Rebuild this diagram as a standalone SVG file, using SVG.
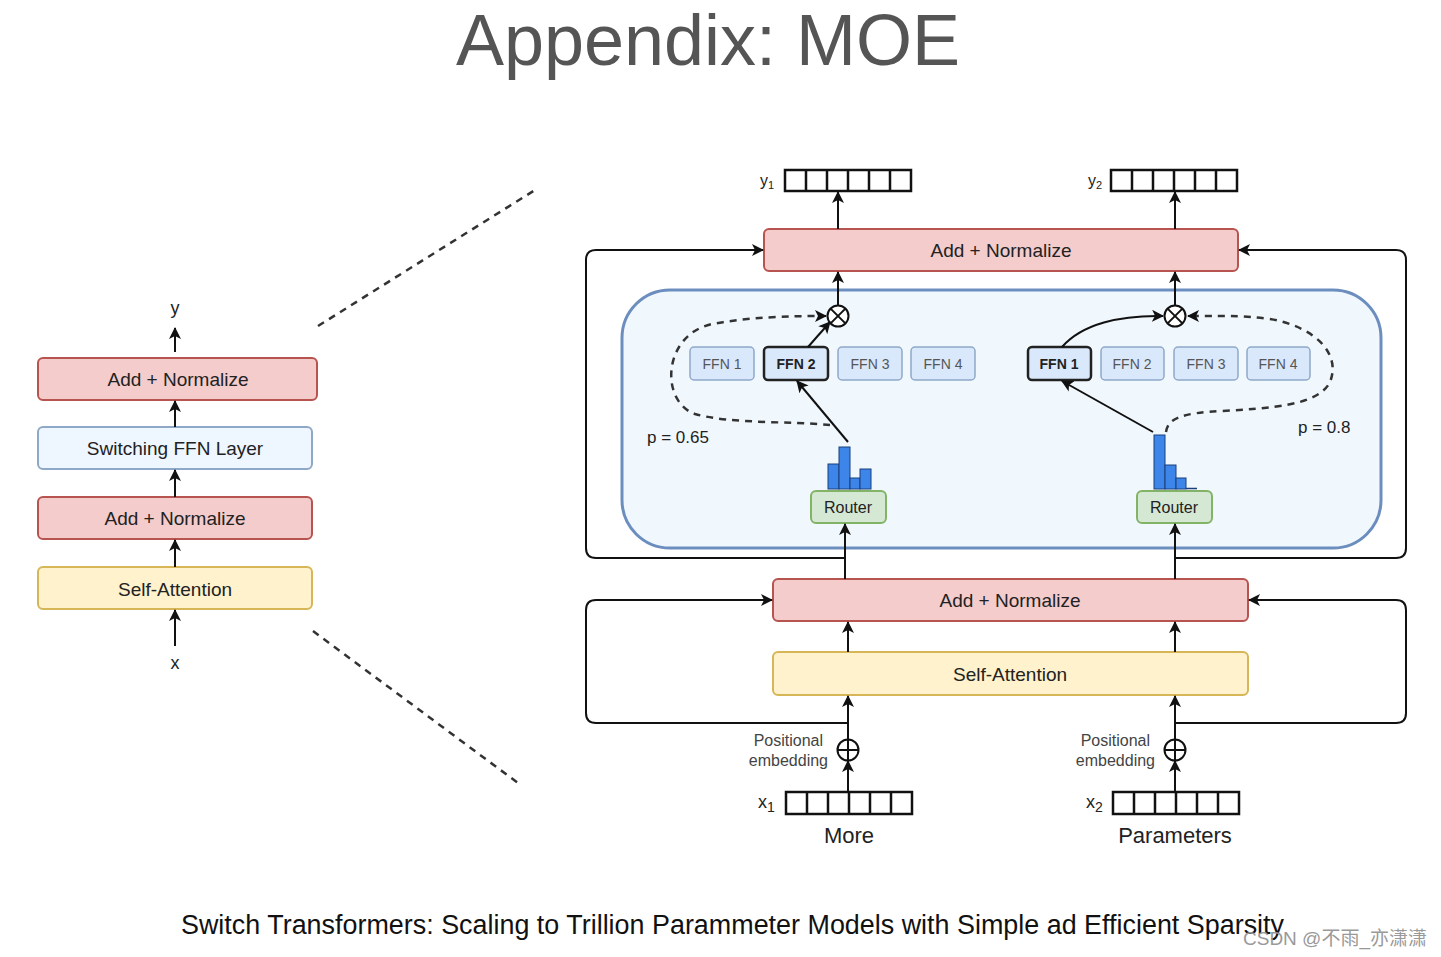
<svg xmlns="http://www.w3.org/2000/svg" width="1441" height="957" viewBox="0 0 1441 957">
<defs>
<marker id="ah" markerUnits="userSpaceOnUse" markerWidth="12" markerHeight="12" viewBox="0 0 12 12" refX="11" refY="6" orient="auto">
<path d="M0,0 L12,6 L0,12 L3,6 Z" fill="#111"/>
</marker>
</defs>
<style>
text{font-family:"Liberation Sans",Arial,sans-serif;fill:#222}
.an{fill:#f4cccc;stroke:#b85450;stroke-width:2}
.sa{fill:#fff2cc;stroke:#d6b656;stroke-width:2}
.sw{fill:#eef6ff;stroke:#8fa8c8;stroke-width:2}
.ffn{fill:#dae8fc;stroke:#8fa8c8;stroke-width:1.5}
.ffnb{fill:#dae8fc;stroke:#222;stroke-width:2.5}
.rt{fill:#d5e8d4;stroke:#82b366;stroke-width:2}
.bar{fill:#3d85e8;stroke:#1a3f7a;stroke-width:1}
.ln{fill:none;stroke:#111;stroke-width:2}
.arr{fill:none;stroke:#111;stroke-width:2;marker-end:url(#ah)}
.dash{fill:none;stroke:#333;stroke-width:2.5;stroke-dasharray:7,6}
.vec{fill:#fff;stroke:#111;stroke-width:2.5}
.lbl{font-size:19px;text-anchor:middle}
.fl{font-size:14px;text-anchor:middle;fill:#555}
.flb{font-size:14px;text-anchor:middle;font-weight:bold;fill:#222}
</style>
<rect width="1441" height="957" fill="#fff"/>
<text x="708" y="65" font-size="72" text-anchor="middle" style="fill:#555">Appendix: MOE</text>

<g id="left-stack">
<g id="l-y"><text x="175" y="314" font-size="18" text-anchor="middle">y</text></g>
<g id="l-an2"><rect class="an" x="38" y="358" width="279" height="42" rx="5"/><text class="lbl" x="178" y="386">Add + Normalize</text></g>
<g id="l-sw"><rect class="sw" x="38" y="427" width="274" height="42" rx="5"/><text class="lbl" x="175" y="455" font-size="18">Switching FFN Layer</text></g>
<g id="l-an1"><rect class="an" x="38" y="497" width="274" height="42" rx="5"/><text class="lbl" x="175" y="525">Add + Normalize</text></g>
<g id="l-sa"><rect class="sa" x="38" y="567" width="274" height="42" rx="5"/><text class="lbl" x="175" y="596">Self-Attention</text></g>
<g id="l-x"><text x="175" y="669" font-size="18" text-anchor="middle">x</text></g>
</g>

<g id="right-nodes">
<g id="y1"><text x="760" y="186" font-size="16">y<tspan font-size="11" dy="3">1</tspan></text>
<rect class="vec" x="785" y="170" width="126" height="21"/></g>
<g id="y2"><text x="1088" y="186" font-size="16">y<tspan font-size="11" dy="3">2</tspan></text>
<rect class="vec" x="1111" y="170" width="126" height="21"/></g>
<g id="an-top"><rect class="an" x="764" y="229" width="474" height="42" rx="5"/><text class="lbl" x="1001" y="257">Add + Normalize</text></g>
<g id="moe"><rect x="622" y="290" width="759" height="258" rx="48" fill="#f0f8fe" stroke="#6c8ebf" stroke-width="3"/></g>
<g id="mul1"><circle cx="838" cy="316" r="10.5" fill="#fff" stroke="#111" stroke-width="2"/><path class="ln" d="M830.6,308.6 L845.4,323.4 M845.4,308.6 L830.6,323.4"/></g>
<g id="mul2"><circle cx="1175" cy="316" r="10.5" fill="#fff" stroke="#111" stroke-width="2"/><path class="ln" d="M1167.6,308.6 L1182.4,323.4 M1182.4,308.6 L1167.6,323.4"/></g>
<g id="ffn-l1"><rect class="ffn" x="690" y="347" width="64" height="33" rx="4"/><text class="fl" x="722" y="369">FFN 1</text></g>
<g id="ffn-l2"><rect class="ffnb" x="764" y="347" width="64" height="33" rx="4"/><text class="flb" x="796" y="369">FFN 2</text></g>
<g id="ffn-l3"><rect class="ffn" x="838" y="347" width="64" height="33" rx="4"/><text class="fl" x="870" y="369">FFN 3</text></g>
<g id="ffn-l4"><rect class="ffn" x="911" y="347" width="64" height="33" rx="4"/><text class="fl" x="943" y="369">FFN 4</text></g>
<g id="ffn-r1"><rect class="ffnb" x="1028" y="347" width="63" height="33" rx="4"/><text class="flb" x="1059" y="369">FFN 1</text></g>
<g id="ffn-r2"><rect class="ffn" x="1101" y="347" width="63" height="33" rx="4"/><text class="fl" x="1132" y="369">FFN 2</text></g>
<g id="ffn-r3"><rect class="ffn" x="1174" y="347" width="64" height="33" rx="4"/><text class="fl" x="1206" y="369">FFN 3</text></g>
<g id="ffn-r4"><rect class="ffn" x="1247" y="347" width="63" height="33" rx="4"/><text class="fl" x="1278" y="369">FFN 4</text></g>
<g id="hist1">
<rect class="bar" x="828" y="464" width="11" height="25"/>
<rect class="bar" x="839" y="447" width="11" height="42"/>
<rect class="bar" x="850" y="478" width="10" height="11"/>
<rect class="bar" x="860" y="469" width="11" height="20"/>
</g>
<g id="hist2">
<rect class="bar" x="1154" y="435" width="11" height="54"/>
<rect class="bar" x="1165" y="465" width="11" height="24"/>
<rect class="bar" x="1176" y="478" width="10" height="11"/>
<line x1="1186" y1="488.5" x2="1197" y2="488.5" stroke="#1a3f7a" stroke-width="1.5"/>
</g>
<g id="router1"><rect class="rt" x="811" y="491" width="75" height="32" rx="5"/><text x="848" y="513" font-size="16" text-anchor="middle">Router</text></g>
<g id="router2"><rect class="rt" x="1137" y="491" width="75" height="32" rx="5"/><text x="1174" y="513" font-size="16" text-anchor="middle">Router</text></g>
<g id="p1"><text x="647" y="443" font-size="17">p = 0.65</text></g>
<g id="p2"><text x="1298" y="433" font-size="17">p = 0.8</text></g>
<g id="an-bot"><rect class="an" x="773" y="579" width="475" height="42" rx="5"/><text class="lbl" x="1010" y="607">Add + Normalize</text></g>
<g id="sa-bot"><rect class="sa" x="773" y="652" width="475" height="43" rx="5"/><text class="lbl" x="1010" y="681">Self-Attention</text></g>
<g id="pos1"><circle cx="848" cy="750" r="10.5" fill="#fff" stroke="#111" stroke-width="2"/><path class="ln" d="M837.5,750 H858.5 M848,739.5 V760.5"/>
<text x="823" y="746" font-size="16" text-anchor="end" style="fill:#444">Positional</text><text x="828" y="766" font-size="16" text-anchor="end" style="fill:#444">embedding</text></g>
<g id="pos2"><circle cx="1175" cy="750" r="10.5" fill="#fff" stroke="#111" stroke-width="2"/><path class="ln" d="M1164.5,750 H1185.5 M1175,739.5 V760.5"/>
<text x="1150" y="746" font-size="16" text-anchor="end" style="fill:#444">Positional</text><text x="1155" y="766" font-size="16" text-anchor="end" style="fill:#444">embedding</text></g>
<g id="x1"><text x="758" y="808" font-size="18">x<tspan font-size="14" dy="4">1</tspan></text>
<rect class="vec" x="786" y="792" width="126" height="22"/><text x="849" y="843" font-size="22" text-anchor="middle">More</text></g>
<g id="x2"><text x="1086" y="808" font-size="18">x<tspan font-size="14" dy="4">2</tspan></text>
<rect class="vec" x="1113" y="792" width="126" height="22"/><text x="1175" y="843" font-size="22" text-anchor="middle">Parameters</text></g>
<g id="vec-cells" stroke="#111" stroke-width="2.5">
<path d="M806,170V191M827,170V191M848,170V191M869,170V191M890,170V191"/>
<path d="M1132,170V191M1153,170V191M1174,170V191M1195,170V191M1216,170V191"/>
<path d="M807,792V814M828,792V814M849,792V814M870,792V814M891,792V814"/>
<path d="M1134,792V814M1155,792V814M1176,792V814M1197,792V814M1218,792V814"/>
</g>
</g>

<g id="connectors">
<line class="arr" x1="175" y1="352" x2="175" y2="328"/>
<line class="arr" x1="175" y1="427" x2="175" y2="401"/>
<line class="arr" x1="175" y1="497" x2="175" y2="470"/>
<line class="arr" x1="175" y1="567" x2="175" y2="540"/>
<line class="arr" x1="175" y1="646" x2="175" y2="610"/>
<line class="dash" x1="318" y1="326" x2="535" y2="190"/>
<line class="dash" x1="313" y1="631" x2="518" y2="783"/>

<line class="arr" x1="838" y1="229" x2="838" y2="192"/>
<line class="arr" x1="1175" y1="229" x2="1175" y2="192"/>
<line class="arr" x1="838" y1="305" x2="838" y2="272"/>
<line class="arr" x1="1175" y1="305" x2="1175" y2="272"/>
<path class="arr" d="M845,558 H596 Q586,558 586,548 V260 Q586,250 596,250 H763"/>
<path class="arr" d="M1175,558 H1396 Q1406,558 1406,548 V260 Q1406,250 1396,250 H1239"/>
<line class="arr" x1="848" y1="442" x2="797" y2="381"/>
<line class="arr" x1="808" y1="347" x2="830" y2="322"/>
<path class="dash" d="M830,425 C790,421 730,424 695,414 C660,402 662,335 712,324 C750,317 790,316 820,316"/>
<path class="arr" d="M818,316 L826,316"/>
<line class="arr" x1="1153" y1="432" x2="1062" y2="381"/>
<path class="arr" d="M1062,347 C1082,324 1120,315 1163,316"/>
<path class="dash" d="M1166,432 C1168,418 1182,413 1222,411 C1270,408 1318,406 1330,382 C1342,352 1312,326 1270,319 C1240,315 1215,316 1194,316"/>
<path class="arr" d="M1196,316 L1188,316"/>
<line class="arr" x1="845" y1="579" x2="845" y2="524"/>
<line class="arr" x1="1175" y1="579" x2="1175" y2="524"/>
<line class="arr" x1="848" y1="652" x2="848" y2="622"/>
<line class="arr" x1="1175" y1="652" x2="1175" y2="622"/>
<line class="arr" x1="848" y1="739" x2="848" y2="696"/>
<line class="arr" x1="1175" y1="739" x2="1175" y2="696"/>
<line class="arr" x1="848" y1="792" x2="848" y2="761"/>
<line class="arr" x1="1175" y1="792" x2="1175" y2="761"/>
<path class="arr" d="M848,723 H596 Q586,723 586,713 V610 Q586,600 596,600 H772"/>
<path class="arr" d="M1175,723 H1396 Q1406,723 1406,713 V610 Q1406,600 1396,600 H1249"/>
</g>

<text x="181" y="934" font-size="27" textLength="1103" lengthAdjust="spacingAndGlyphs" style="fill:#111">Switch Transformers: Scaling to Trillion Parammeter Models with Simple ad Efficient Sparsity</text>
<text x="1243" y="945" font-size="19" style="fill:#999;font-family:'Liberation Sans','Noto Sans CJK SC',sans-serif">CSDN @不雨_亦潇潇</text>
</svg>
